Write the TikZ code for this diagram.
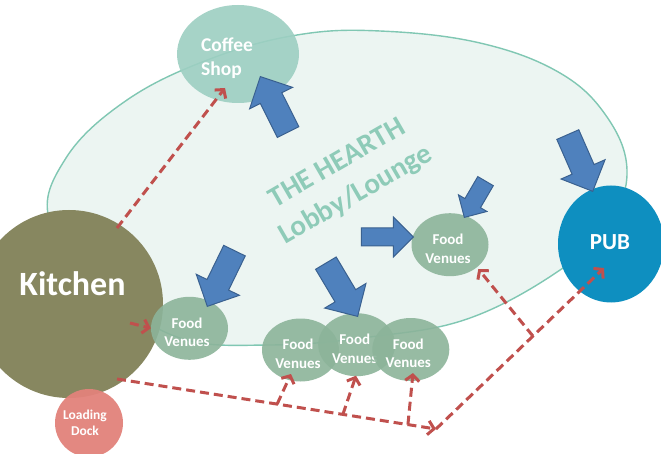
\documentclass[tikz,border=0pt]{standalone}
\usepackage{fontspec}
\setmainfont{Carlito}
\usetikzlibrary{shapes.geometric,shapes.arrows,arrows.meta,calc}
\definecolor{lobbyfill}{HTML}{ECF5F2}
\definecolor{lobbyline}{HTML}{80C7B3}
\definecolor{hearth}{HTML}{8ECBB8}
\definecolor{coffeec}{HTML}{9DCFC2}
\definecolor{venuec}{HTML}{8CB49A}
\definecolor{kitchenc}{HTML}{878760}
\definecolor{dockc}{HTML}{E2827B}
\definecolor{pubc}{HTML}{0E8FC0}
\definecolor{redc}{HTML}{C0504D}
\definecolor{bluefill}{HTML}{4F81BD}
\definecolor{blueline}{HTML}{3A6190}
\begin{document}
\begin{tikzpicture}[x=1pt,y=-1pt,
  venue/.style={ellipse, fill=venuec, fill opacity=0.9, minimum width=77pt, minimum height=63pt, inner sep=0pt},
  vtext/.style={text=white, font=\fontsize{15}{18.5}\selectfont\bfseries, align=center, inner sep=0pt},
  blockarrow/.style={single arrow, fill=bluefill, draw=blueline, line width=1pt, inner xsep=0pt, single arrow head indent=0pt, anchor=tip},
  bigarrow/.style={blockarrow, minimum height=62pt, inner ysep=11.5pt, single arrow head extend=12pt},
  flow/.style={draw=redc, line width=3pt, dash pattern=on 9pt off 5pt, -{Straight Barb[length=6pt,width=14pt]}},
]
\useasboundingbox (0,0) rectangle (661,454);
\fill[white] (0,0) rectangle (661,454);
\clip (0,0) rectangle (661,454);

% lobby
\draw[draw=lobbyline, fill=lobbyfill, line width=1.4pt] plot[smooth cycle, tension=0.65] coordinates {
 (50,222) (66,158) (127,100) (210,59) (297,35) (380,31) (480,43) (560,73) (607,117)
 (627,170) (610,222) (563,268) (470,318) (370,337) (270,345) (180,338) (110,292)};
\node[rotate=30, text=hearth, font=\fontsize{29}{36.5}\selectfont\bfseries, align=center, inner sep=0pt] (hearthtext) at (347,180) {THE HEARTH\\Lobby/Lounge};

% coffee shop
\node[ellipse, fill=coffeec, fill opacity=0.9, minimum width=122pt, minimum height=98pt, inner sep=0pt] (coffee) at (238,54) {};
\node[text=white, font=\fontsize{19.5}{23.7}\selectfont\bfseries, align=left, inner sep=0pt] (coffeetext) at (227,58) {Coffee\\Shop};

% kitchen
\node[circle, fill=kitchenc, minimum size=188pt, inner sep=0pt] (kitchen) at (69,304) {};
\node[text=white, font=\fontsize{34}{40}\selectfont\bfseries, anchor=base, inner sep=0pt] (kitchentext) at (72.5,295) {Kitchen};

% food venues
\node[venue] (v1) at (189.5,328.3) {};
\node[vtext] (v1text) at ($(v1)+(-2.5,4)$) {Food\\Venues};
\node[venue] (vA) at (300.5,350) {};
\node[vtext] (vAtext) at ($(vA)+(-2.5,4)$) {Food\\Venues};
\node[venue] (vB) at (356.7,344.7) {};
\node[vtext] (vBtext) at ($(vB)+(-2,4)$) {Food\\Venues};
\node[venue] (vC) at (410.8,349.5) {};
\node[vtext] (vCtext) at ($(vC)+(-2.5,4)$) {Food\\Venues};
\node[venue] (vI) at (450,244.7) {};
\node[vtext] (vItext) at ($(vI)+(-2,4)$) {Food\\Venues};

% loading dock
\node[circle, fill=dockc, fill opacity=0.95, minimum size=68pt, inner sep=0pt] (dock) at (89,423) {};
\node[text=white, font=\fontsize{13.5}{15.5}\selectfont\bfseries, align=center, inner sep=0pt] (docktext) at (85,423) {Loading\\Dock};

% pub
\node[ellipse, fill=pubc, minimum width=106pt, minimum height=117pt, inner sep=0pt] (pub) at (611,244) {};
\node[text=white, font=\fontsize{23}{27}\selectfont\bfseries, anchor=base, inner sep=0pt] (pubtext) at (610,249.3) {PUB};

% blue block arrows
\node[bigarrow, rotate=116.6] (a1) at ($(coffee)+(22,22)$) {};
\node[bigarrow, rotate=-116] (a2) at ($(v1)+(17.5,-21.3)$) {};
\node[bigarrow, rotate=-59.2] (a3) at ($(vB)+(1.3,-27.7)$) {};
\node[blockarrow, minimum height=52pt, inner ysep=8.5pt, single arrow head extend=11pt] (a4) at ($(vI)+(-36,-7.7)$) {};
\node[blockarrow, rotate=-120.3, minimum height=42pt, inner ysep=8.5pt, single arrow head extend=7.5pt] (a5) at ($(vI)+(14,-26.7)$) {};
\node[bigarrow, rotate=-66.3] (a6) at ($(pub)+(-18,-52)$) {};

% red dashed flows
\coordinate (kout) at ($(kitchen)+(48,75)$);
\coordinate (corner) at (436,429);
\coordinate (pubin) at ($(pub)+(-7,24)$);
\coordinate (jA) at ($(kout)!0.502!(corner)$);
\coordinate (jB) at ($(kout)!0.708!(corner)$);
\coordinate (jC) at ($(kout)!0.912!(corner)$);
\coordinate (jP) at ($(corner)!0.577!(pubin)$);
\draw[flow] ($(kitchen)+(48,-76)$) -- ($(coffee)+(-13,34)$);
\draw[flow] ($(kitchen)+(61,19)$) -- (v1.west);
\draw[flow] (kout) -- (corner);
\draw[flow] (jA) -- ($(vA)+(-9.5,24)$);
\draw[flow] (jB) -- ($(vB)+(-0.7,31)$);
\draw[flow] (jC) -- ($(vC)+(2.2,23.5)$);
\draw[flow] (corner) -- (pubin);
\draw[flow] (jP) -- ($(vI)+(28.3,24.3)$);
\end{tikzpicture}
\end{document}
